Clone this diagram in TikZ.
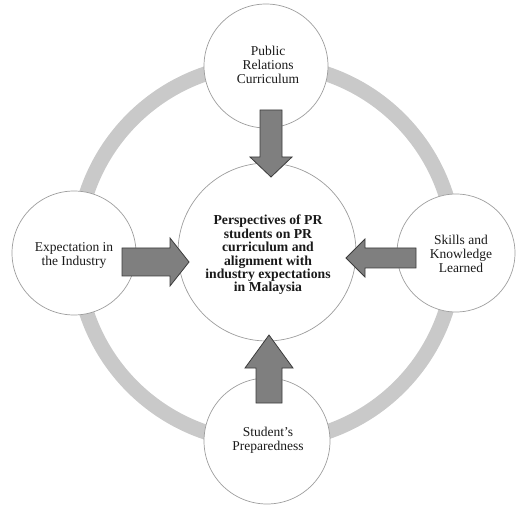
\documentclass[tikz,border=0pt]{standalone}
\usepackage{fontspec}
\setmainfont{Liberation Serif}
\definecolor{ringgray}{HTML}{C9C9C9}
\definecolor{circgray}{HTML}{9E9E9E}
\definecolor{arrowfill}{HTML}{7F7F7F}
\definecolor{arrowline}{HTML}{3C3C3C}
\definecolor{txt}{HTML}{1A1A1A}
\newcommand\blkarrow[4]{\draw[arrowbody] (0,-#2) -- ({#1-#4},-#2) -- ({#1-#4},-#3) -- (#1,0) -- ({#1-#4},#3) -- ({#1-#4},#2) -- (0,#2) -- cycle;}
\begin{document}
\begin{tikzpicture}[x=1pt,y=-1pt,
  ring/.style={draw=ringgray, line width=15pt},
  bubble/.style={circle, draw=circgray, line width=0.7pt, fill=white, inner sep=0pt},
  label/.style={align=center, text=txt, inner sep=0pt, font=\fontsize{13.5}{14}\selectfont},
  hublabel/.style={label, font=\fontsize{13.7}{13.4}\selectfont\bfseries},
  arrowbody/.style={draw=arrowline, fill=arrowfill, line width=0.8pt, line join=miter}]
\useasboundingbox (0,0) rectangle (517,505);
\coordinate (O) at (266,253);
\draw[ring] (O) circle[radius=189];
\node[bubble, minimum size=124pt] (top) at (266,66) {};
\node[bubble, minimum size=124pt] (left) at (74,253) {};
\node[bubble, minimum size=118pt] (right) at (456,253) {};
\node[bubble, minimum size=126pt] (bottom) at (267,441) {};
\node[bubble, minimum size=178pt] (center) at (267,252) {};
\node[label] (toptext) at (268,65) {Public\\Relations\\Curriculum};
\node[label] (lefttext) at (74,255) {Expectation in\\the Industry};
\node[label] (righttext) at (461,254) {Skills and\\Knowledge\\Learned};
\node[label] (bottomtext) at (268,440) {Student's\\Preparedness};
\node[hublabel] (centertext) at (268,255) {Perspectives of PR\\students on PR\\curriculum and\\alignment with\\industry expectations\\in Malaysia};
\begin{scope}[shift={(271,110)}, rotate=-90] \blkarrow{67}{11}{21}{20} \end{scope}
\begin{scope}[shift={(122,262)}] \blkarrow{67}{14}{24}{19} \end{scope}
\begin{scope}[shift={(416,258)}, rotate=180] \blkarrow{70}{10}{19}{19} \end{scope}
\begin{scope}[shift={(269,403)}, rotate=90] \blkarrow{68}{13}{24}{33} \end{scope}
\end{tikzpicture}
\end{document}
